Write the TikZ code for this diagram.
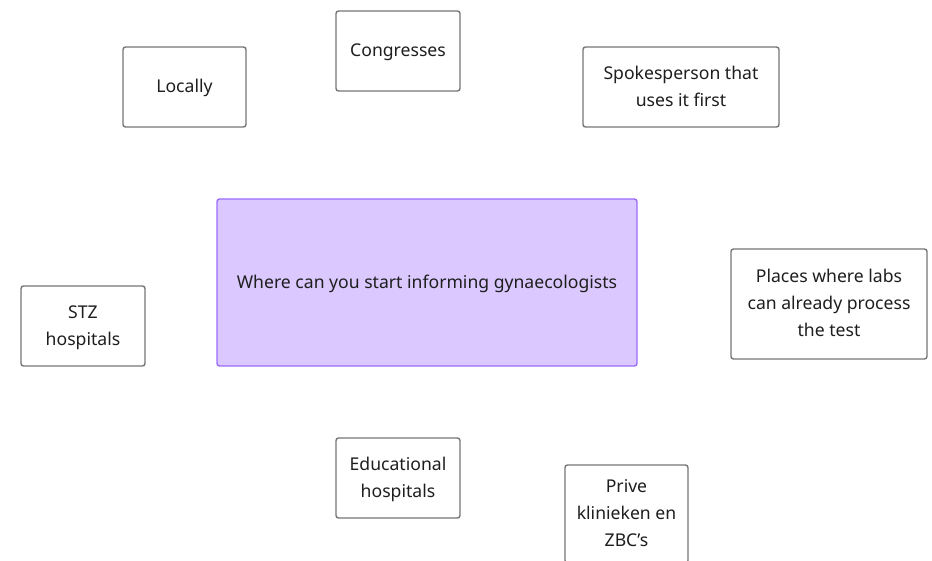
\documentclass[tikz,border=0pt]{standalone}
\usepackage{fontspec}
\setmainfont{Noto Sans}
\usepackage{xcolor}
\usepackage{tikz}
\usetikzlibrary{positioning}

\definecolor{boxgray}{HTML}{767676}
\definecolor{lilacfill}{HTML}{DAC8FF}
\definecolor{lilacline}{HTML}{9B6BFA}
\definecolor{inktext}{HTML}{1E1E1E}

\tikzset{
    idea/.style={draw=boxgray, line width=1.4pt, rounded corners=2.5pt, fill=white,
        text=inktext, align=center, inner sep=0pt, text depth=1.5pt,
        font=\fontsize{17.6}{27}\selectfont},
    question/.style={idea, draw=lilacline, fill=lilacfill}
}

\begin{document}
\begin{tikzpicture}[x=1pt, y=-1pt]
    % 画布
    \useasboundingbox (0,0) rectangle (932,561);

    % 中心问题
    \node[question, minimum width=420pt, minimum height=167pt] (question) at (427,282.5)
        {Where can you start informing gynaecologists};

    % 上方
    \node[idea, minimum width=123pt, minimum height=80pt] (locally) at (184.5,87) {Locally};
    \node[idea, minimum width=124pt, minimum height=80pt] (congresses) at (398,51) {Congresses};
    \node[idea, minimum width=196pt, minimum height=80pt] (spokesperson) at (681,87)
        {Spokesperson that\\uses it first};

    % 左右
    \node[idea, minimum width=124pt, minimum height=80pt] (stz) at (83,326) {STZ\\hospitals};
    \node[idea, minimum width=196pt, minimum height=110pt] (places) at (829,304)
        {Places where labs\\can already process\\the test};

    % 下方
    \node[idea, minimum width=124pt, minimum height=80pt] (educational) at (398,478)
        {Educational\\hospitals};
    \node[idea, minimum width=123pt, minimum height=98pt] (prive) at (626.5,514)
        {Prive\\klinieken en\\ZBC’s};
\end{tikzpicture}
\end{document}
